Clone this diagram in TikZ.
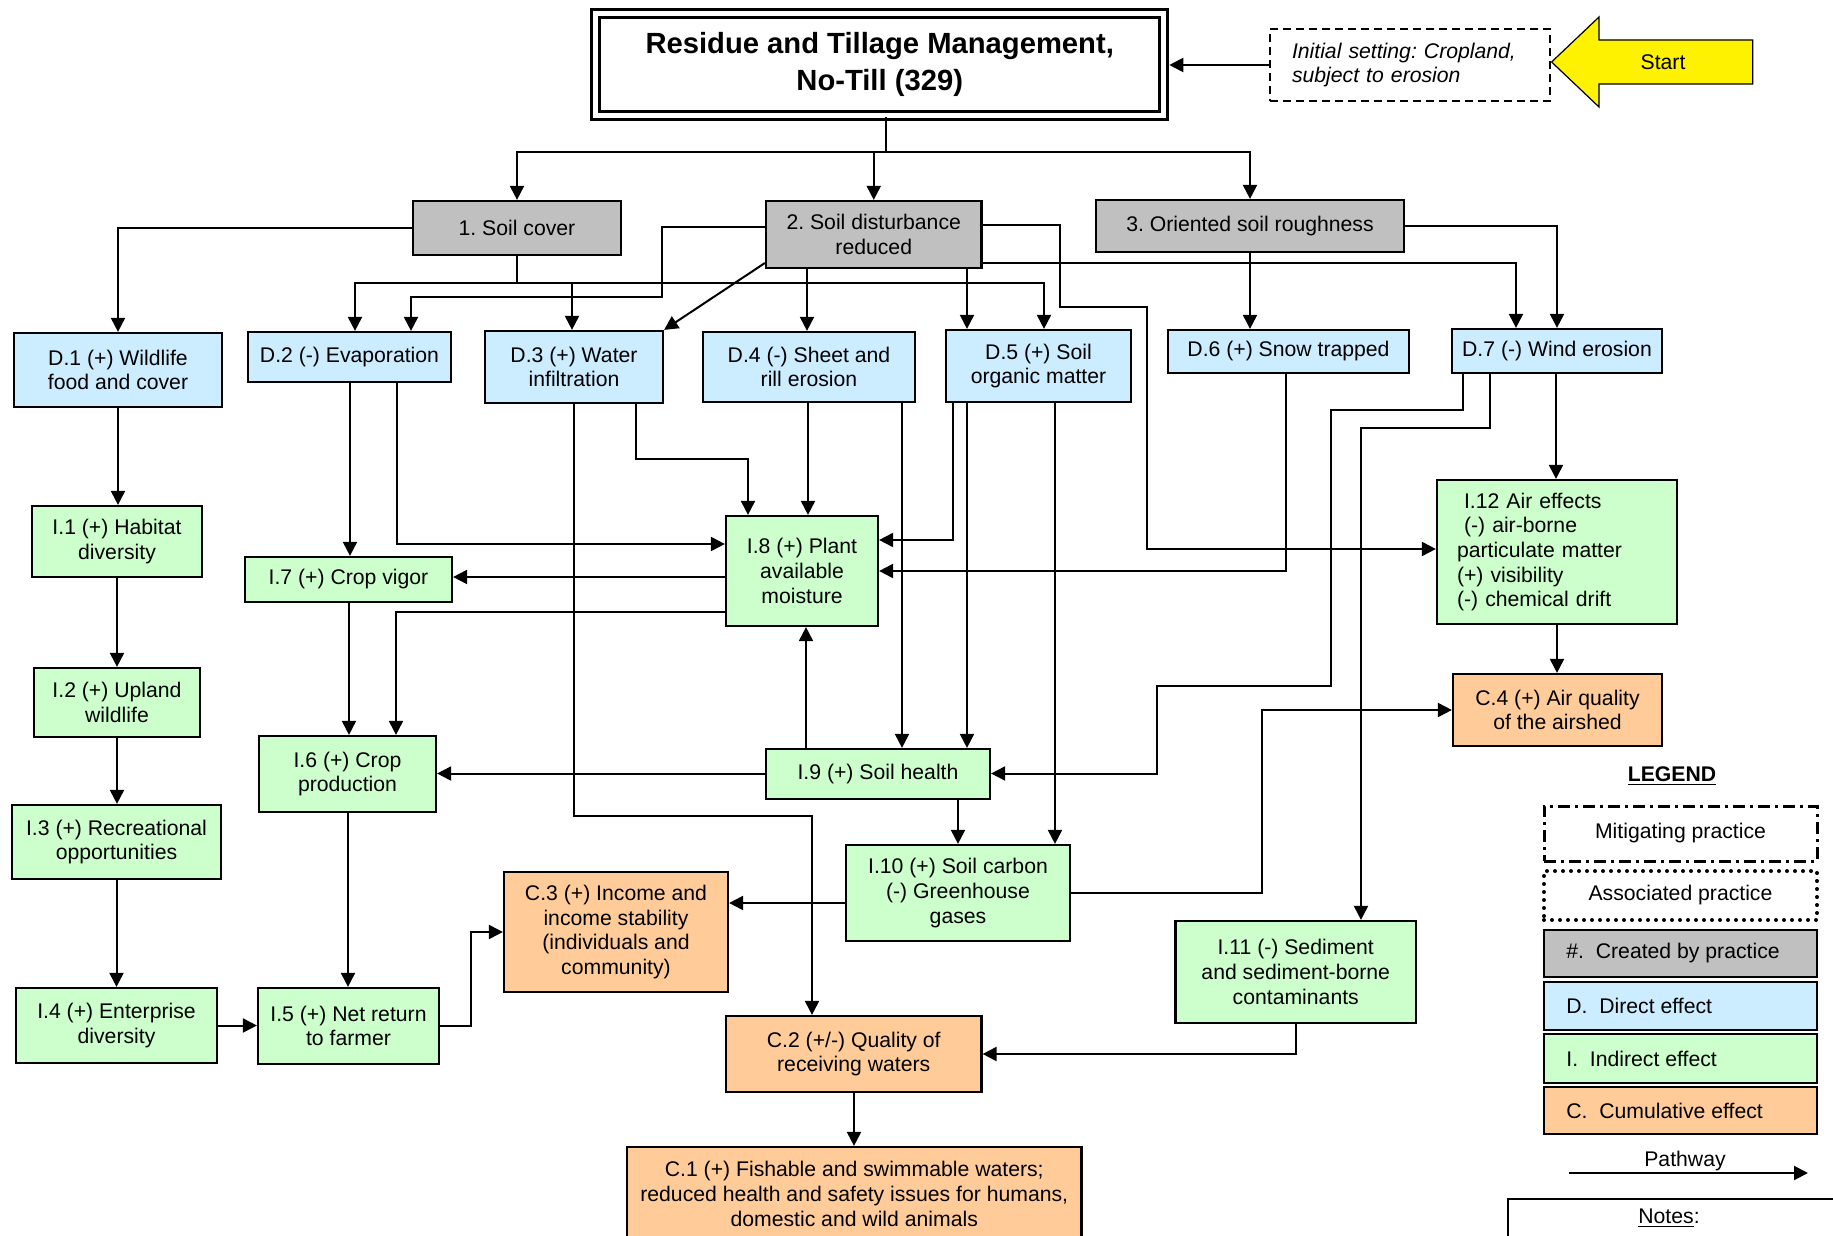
\documentclass[tikz,border=0pt]{standalone}
\usepackage{fontspec}
\setmainfont{Liberation Sans}
\usetikzlibrary{arrows.meta}
\definecolor{cgray}{HTML}{C0C0C0}
\definecolor{cblue}{HTML}{CCECFF}
\definecolor{cgreen}{HTML}{CCFFCC}
\definecolor{corange}{HTML}{FFCC99}
\frenchspacing
\newcommand\fsz{\fontsize{10.6}{12.3}\selectfont}
\newcommand\bx[7]{\node[#6, minimum width={(#4-(#2))*0.5pt}, minimum height={(#5-(#3))*0.5pt}] (#1) at ({(#2+#4)/2},{(#3+#5)/2}) {#7};}
\tikzset{
  box/.style={draw, line width=1.1pt, align=center, inner sep=0pt, font=\fsz},
  gbox/.style={box, fill=cgray},
  dbox/.style={box, fill=cblue},
  ibox/.style={box, fill=cgreen},
  cbox/.style={box, fill=corange},
  arr/.style={-{Triangle[length=7pt,width=7pt]}, line width=1pt},
  ln/.style={line width=1pt},
  txt/.style={font=\fsz, inner sep=0pt},
}
\begin{document}
\begin{tikzpicture}[x=0.5pt,y=-0.5pt]
\useasboundingbox (0,0) rectangle (1833,1236);
\fill[white] (0,0) rectangle (1833,1236);
\clip (0,0) rectangle (1833,1236);

% title
\node[draw, line width=1.6pt, double, double distance=2.5pt, align=center,
      minimum width=284pt, minimum height=50.8pt, inner sep=0pt,
      font=\fontsize{14.6}{18.5}\selectfont\bfseries] (title) at (879.7,64.5)
      {Residue and Tillage Management,\\No-Till (329)};
% initial setting
\node[draw, dash pattern=on 4pt off 2.5pt, line width=0.75pt, align=left,
      minimum width=140pt, minimum height=36pt, inner sep=0pt, text width=118pt,
      font=\fsz\itshape] (init) at (1410,65)
      {Initial setting: Cropland,\\subject to erosion};
% start arrow
\draw[fill=yellow, line width=0.6pt] (1551.6,62) -- (1599,17) -- (1599,40) -- (1752.7,40)
  -- (1752.7,84) -- (1599,84) -- (1599,107) -- cycle;
\node[txt] (start) at (1663,62) {Start};

% practice effects
\bx{sc}{413}{201}{621}{255}{gbox}{1. Soil cover}
\bx{sd}{766}{201}{981.5}{268}{gbox}{2. Soil disturbance\\reduced}
\bx{sr}{1096}{200}{1404}{252}{gbox}{3. Oriented soil roughness}

% direct effects
\bx{d1}{14}{333}{222}{407}{dbox}{D.1 (+) Wildlife\\food and cover}
\bx{d2}{248}{332}{451}{382}{dbox}{D.2 (-) Evaporation}
\bx{d3}{485}{331}{663}{403}{dbox}{D.3 (+) Water\\infiltration}
\bx{d4}{703}{332}{915}{402}{dbox}{D.4 (-) Sheet and\\rill erosion}
\bx{d5}{946}{330}{1131}{402}{dbox}{D.5 (+) Soil\\organic matter}
\bx{d6}{1168}{330}{1409}{373}{dbox}{D.6 (+) Snow trapped}
\bx{d7}{1452}{329}{1662}{373}{dbox}{D.7 (-) Wind erosion}

% indirect effects
\bx{i1}{32}{506}{202}{577}{ibox}{I.1 (+) Habitat\\diversity}
\bx{i2}{34}{668}{200}{737}{ibox}{I.2 (+) Upland\\wildlife}
\bx{i3}{12}{805}{221}{879}{ibox}{I.3 (+) Recreational\\opportunities}
\bx{i4}{16}{988}{217}{1063}{ibox}{I.4 (+) Enterprise\\diversity}
\bx{i5}{258}{988}{439}{1064}{ibox}{I.5 (+) Net return\\to farmer}
\bx{i6}{259}{736}{436}{812}{ibox}{I.6 (+) Crop\\production}
\bx{i7}{245}{557}{452}{602}{ibox}{I.7 (+) Crop vigor}
\bx{i8}{726}{516}{878}{626}{ibox}{I.8 (+) Plant\\available\\moisture}
\bx{i9}{766}{749}{990}{799}{ibox}{I.9 (+) Soil health}
\bx{i10}{846}{845}{1070}{941}{ibox}{I.10 (+) Soil carbon\\(-) Greenhouse\\gases}
\bx{i11}{1175.5}{921}{1416}{1023}{ibox}{I.11 (-) Sediment\\and sediment-borne\\contaminants}
\node[box, fill=cgreen, align=left, inner xsep=10pt, text width=100pt,
      minimum height=72pt] (i12) at (1557,552)
      {\hspace{3.5pt}I.12 Air effects\\\hspace{3.5pt}(-) air-borne\\particulate matter\\(+) visibility\\(-) chemical drift};

% cumulative effects
\bx{c1}{627}{1147}{1081.5}{1241}{cbox}{C.1 (+) Fishable and swimmable waters;\\reduced health and safety issues for humans,\\domestic and wild animals}
\bx{c2}{726}{1016}{981.5}{1092}{cbox}{C.2 (+/-) Quality of\\receiving waters}
\bx{c3}{504}{872}{728}{992}{cbox}{C.3 (+) Income and\\income stability\\(individuals and\\community)}
\bx{c4}{1453}{674}{1662}{746}{cbox}{C.4 (+) Air quality\\of the airshed}

% legend
\node[txt, font=\fsz\bfseries] (legtitle) at (1672,776) {\underline{LEGEND}};
\bx{lm}{1544}{806}{1817}{861}{box, line width=1.5pt, dash pattern=on 6pt off 2.5pt on 1.5pt off 2.5pt}{Mitigating practice}
\bx{la}{1544}{871}{1817}{920}{box, line width=2pt, line cap=round, dash pattern=on 0pt off 4pt}{Associated practice}
\bx{lg}{1544}{930}{1817}{977}{gbox}{}
\bx{lb}{1544}{982}{1817}{1030}{dbox}{}
\bx{lgr}{1544}{1034}{1817}{1083}{ibox}{}
\bx{lo}{1544}{1087}{1817}{1134}{cbox}{}
\node[txt, anchor=west] (lgt) at (1566,953.5) {\#.\ \ Created by practice};
\node[txt, anchor=west] (lbt) at (1566,1006) {D.\ \ Direct effect};
\node[txt, anchor=west] (lgrt) at (1566,1058.5) {I.\ \ Indirect effect};
\node[txt, anchor=west] (lot) at (1566,1110.5) {C.\ \ Cumulative effect};
\coordinate (pw1) at (1569,1173);
\coordinate (pw2) at (1808,1173);
\draw[arr] (pw1) -- (pw2);
\node[txt] (pwt) at (1685,1161) {Pathway};
\bx{notes}{1508}{1199}{1845}{1270}{box, fill=white}{}
\node[txt] (notest) at (1669,1218) {\underline{Notes}:};

% ---------------- connectors ----------------
\draw[arr, shorten >=2pt] (init.west) -- (init.west -| title.east);
\draw[ln] (title.south -| 886,0) -- (886,152);
\draw[arr] (886,152) -| (sc.north);
\draw[arr] (886,152) -| (sr.north);
\draw[arr] (sd.north |- 0,152) -- (sd.north);

\draw[arr] (sc.west) -| (d1.north);
\draw[ln] (sc.south) -- (sc.south |- 0,283);
\draw[arr] (sc.south |- 0,283) -| (d2.north -| 355,0);
\draw[arr] (sc.south |- 0,283) -| (d5.north -| 1044,0);
\draw[arr] (572,283) -- (d3.north -| 572,0);

\draw[arr] (sd.west |- 0,227) -- (662,227) |- (411,297) -- (d2.north -| 411,0);
\draw[arr] (sd.west |- 0,263) -- (d3.north east);
\draw[arr] (sd.south -| 807,0) -- (d4.north -| 807,0);
\draw[arr] (sd.south -| 967,0) -- (d5.north -| 967,0);
\draw[arr] (sd.east |- 0,225) -| (1059.5,307) -| (1147,549) -- (i12.west |- 0,549);
\draw[arr] (sd.east |- 0,263) -| (d7.north -| 1516,0);
\draw[arr] (sr.south) -- (sr.south |- d6.north);
\draw[arr] (sr.east) -| (d7.north);

\draw[arr] (d1.south) -- (d1.south |- i1.north);
\draw[arr] (i1.south) -- (i1.south |- i2.north);
\draw[arr] (i2.south) -- (i2.south |- i3.north);
\draw[arr] (i3.south) -- (i3.south |- i4.north);
\draw[arr] (i4.east) -- (i4.east -| i5.west);
\draw[arr] (i5.east) -| (471,932) -- (c3.west);

\draw[arr] (d2.south -| 350,0) -- (i7.north -| 350,0);
\draw[arr] (d2.south -| 397,0) |- (i8.west |- 0,544);
\draw[arr] (d3.south -| 574,0) |- (812,816) -- (c2.north -| 812,0);
\draw[arr] (d3.south -| 636,0) |- (748,459) -- (i8.north -| 748,0);
\draw[arr] (d4.south -| 808,0) -- (i8.north -| 808,0);
\draw[arr] (d4.south -| 902,0) -- (i9.north -| 902,0);
\draw[arr] (d5.south -| 952.5,0) |- (i8.east |- 0,540);
\draw[arr] (d5.south -| 967,0) -- (i9.north -| 967,0);
\draw[arr] (d5.south -| 1055,0) -- (i10.north -| 1055,0);
\draw[arr] (d6.south -| 1286,0) |- (i8.east |- 0,571);
\draw[arr] (d7.south -| 1462.5,0) |- (1331,410) |- (1157,685.5) |- (i9.east |- 0,773.5);
\draw[arr] (d7.south -| 1490,0) |- (1361,428) -- (i11.north -| 1361,0);
\draw[arr] (d7.south -| 1556,0) -- (i12.north -| 1556,0);
\draw[arr] (i12.south -| 1557,0) -- (c4.north -| 1557,0);
\draw[arr] (i10.east |- 0,893) -| (1262,710) -- (c4.west |- 0,710);
\draw[arr] (i9.south -| 958,0) -- (i10.north -| 958,0);
\draw[arr] (i10.west |- 0,903) -- (c3.east |- 0,903);
\draw[arr] (i11.south -| 1296,0) |- (c2.east |- 0,1054);
\draw[arr] (c2.south -| 854,0) -- (c1.north -| 854,0);

\draw[arr] (i8.west |- 0,577) -- (i7.east |- 0,577);
\draw[arr] (i8.west |- 0,612) -| (i6.north -| 396,0);
\draw[arr] (i7.south -| 349,0) -- (i6.north -| 349,0);
\draw[arr] (i9.north -| 806,0) -- (i8.south -| 806,0);
\draw[arr] (i9.west |- 0,773.5) -- (i6.east |- 0,773.5);
\draw[arr] (i6.south -| 348,0) -- (i5.north -| 348,0);
\end{tikzpicture}
\end{document}
